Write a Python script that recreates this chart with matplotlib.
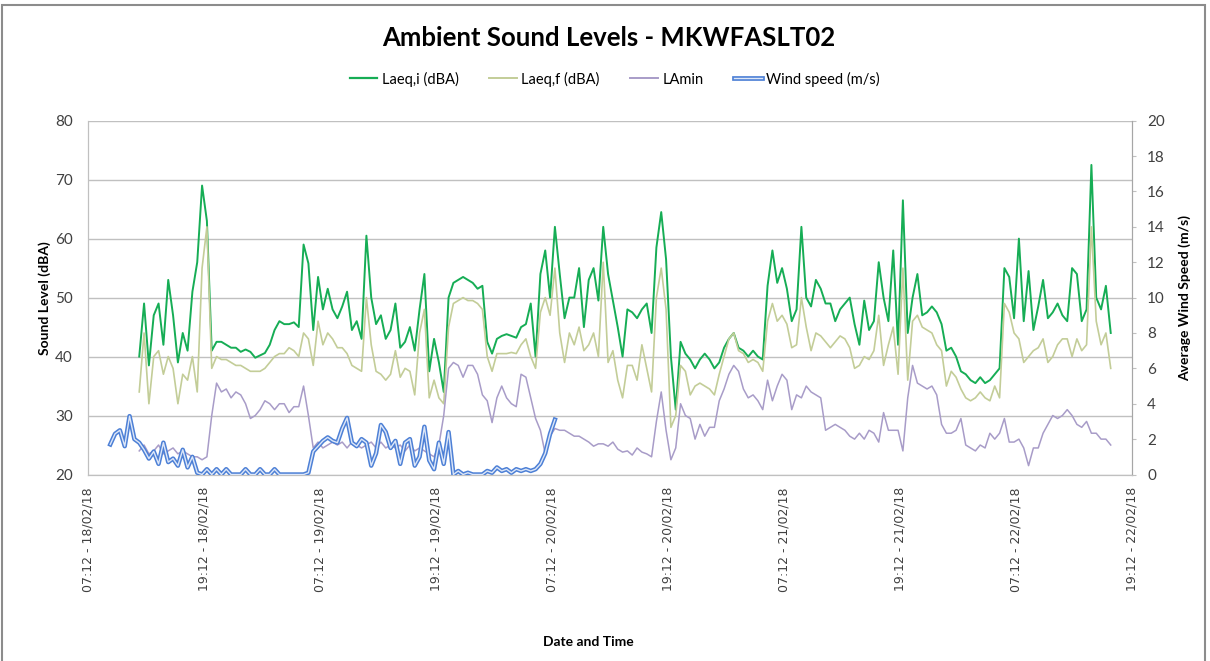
import matplotlib
matplotlib.use('Agg')
import matplotlib.pyplot as plt
import matplotlib.dates as mdates
from matplotlib.lines import Line2D
from matplotlib.patches import Rectangle
import pandas as pd

# 30-minute readings, sound from 12:30 18/02/18, wind from 09:30 18/02/18
SOUND_START = '2018-02-18 12:30'
WIND_START = '2018-02-18 09:30'

laeq_i = [
    40, 49, 38.5, 47, 49, 42, 53, 47, 39, 44,
    41, 51, 56, 69, 63, 41, 42.5, 42.5, 42, 41.5,
    41.5, 40.8, 41.2, 40.8, 39.8, 40.2, 40.6, 42, 44.5, 46,
    45.5, 45.5, 45.8, 45, 59, 55.8, 44.5, 53.5, 48, 51.5,
    48, 46.5, 48.5, 51, 44.5, 46, 43, 60.5, 50, 45.5,
    47, 43, 44.5, 49, 41.5, 42.5, 45, 41, 48, 54,
    37.5, 43, 39, 34, 50, 52.5, 53, 53.5, 53, 52.5,
    51.5, 52, 42.5, 40.5, 43, 43.5, 43.8, 43.5, 43.2, 45,
    45.5, 49, 40, 54, 58, 50, 62, 54, 46.5, 50,
    50, 55, 45, 53, 55, 49.5, 62, 54, 49.5, 45,
    40, 48, 47.5, 46.5, 48, 49, 44, 58.5, 64.5, 56.5,
    40, 31, 42.5, 40.5, 39.5, 38, 39.5, 40.5, 39.5, 38,
    39, 41.5, 43, 44, 41.5, 41, 40, 41, 40, 39.5,
    52, 58, 52.5, 55, 51.5, 46, 48, 62, 50, 48.5,
    53, 51.5, 49, 49, 46, 48, 49, 50, 45.5, 42,
    49.5, 44.5, 46, 56, 50, 46, 58, 42, 66.5, 44,
    50, 54, 47, 47.5, 48.5, 47.5, 45.5, 41, 41.5, 40,
    37.5, 37, 36, 35.5, 36.5, 35.5, 36, 37, 38, 55,
    53.5, 46.5, 60, 46, 54.5, 44.5, 48.5, 53, 46.5, 47.5,
    49, 47, 46, 55, 54, 46, 48, 72.5, 50, 48,
    52, 44,
]

laeq_f = [
    34, 44, 32, 40, 41, 37, 40, 38, 32, 37,
    36, 40, 34, 55, 62, 38, 40, 39.5, 39.5, 39,
    38.5, 38.5, 38, 37.5, 37.5, 37.5, 38, 39, 40, 40.5,
    40.5, 41.5, 41, 40, 44, 43, 38.5, 46, 42, 44,
    43, 41.5, 41.5, 40.5, 38.5, 38, 37.5, 50, 42, 37.5,
    37, 36, 37, 41, 36.5, 38, 37.5, 33.5, 44, 48,
    33, 36, 33, 32, 45, 49, 49.5, 50, 49.5, 49.5,
    49, 48, 40, 37.5, 40.5, 40.5, 40.5, 40.7, 40.5, 42,
    43, 40, 38, 47.5, 50, 47, 55, 44, 39, 44,
    42, 45, 41, 42, 44, 40, 56, 39, 41, 36,
    33, 38.5, 38.5, 36, 42, 38, 34, 50, 55, 48,
    28, 30, 38.5, 37.5, 33.5, 35, 35.5, 35, 34.5, 33.5,
    37, 40, 43, 44, 41, 40.5, 39, 39.5, 39, 37.5,
    46, 49, 46, 47, 45.5, 41.5, 42, 50, 45, 41,
    44, 43.5, 42.5, 41.5, 42.5, 43.5, 43, 41.5, 38, 38.5,
    40, 39.5, 41, 47, 38.5, 42, 45, 37, 55, 36,
    46, 47, 45, 44.5, 44, 42, 41, 35, 37.5, 36.5,
    34.5, 33, 32.5, 33, 34, 33, 32.5, 35, 33, 49,
    47.5, 44, 43, 39, 40, 41, 41.5, 43, 39, 40,
    42, 43, 43, 40, 43, 41, 42, 62, 46, 42,
    44, 38,
]

lamin = [
    24, 25, 23.5, 24, 25, 23.5, 24, 24.5, 23.5, 24,
    23.5, 23, 23, 22.5, 23, 30, 35.5, 34, 34.5, 33,
    34, 33.5, 32, 29.5, 30, 31, 32.5, 32, 31, 32,
    32, 30.5, 31.5, 31.5, 35, 30, 24.5, 25.5, 24.5, 25,
    25.5, 25, 25.5, 24.5, 25.5, 25, 24.5, 25, 25.5, 24.5,
    25.5, 24.5, 25, 24.5, 25, 24, 25, 24, 24.5, 24,
    23.5, 23, 25, 30, 38, 39, 38.5, 36.5, 38.5, 38.5,
    37, 33.5, 32.5, 28.8, 33, 35, 33, 32, 31.5, 37,
    36.5, 33, 29.5, 27.5, 23.5, 26.5, 27.8, 27.5, 27.5, 27,
    26.5, 26.5, 26, 25.5, 24.8, 25.2, 25.2, 24.8, 25.5, 24.3,
    23.8, 24, 23.3, 24.5, 23.8, 23.5, 23, 29, 34, 27.5,
    22.5, 24.5, 32, 30, 29.5, 26, 28.5, 26.5, 28, 28,
    32.5, 34.5, 37, 38.5, 37.5, 34.5, 33, 33.5, 32.5, 31,
    36, 32.5, 35, 37, 36, 31, 33.5, 33, 35, 34,
    33.5, 33, 27.5, 28, 28.5, 28, 27.5, 26.5, 26, 27,
    26, 27.5, 27, 25.5, 30.5, 27.5, 27.5, 27.5, 24, 33,
    38.5, 35.5, 35, 34.5, 35, 33.5, 28.5, 27, 27, 27.5,
    29.5, 25, 24.5, 24, 25, 24.5, 27, 26, 27, 29.5,
    25.5, 25.5, 26, 24.5, 21.5, 24.5, 24.5, 27, 28.5, 30,
    29.5, 30, 31, 30, 28.5, 28, 29, 27, 27, 26,
    26, 25,
]

wind = [
    1.7, 2.3, 2.5, 1.6, 3.3, 2.0, 1.8, 1.4, 0.9, 1.3,
    0.6, 1.8, 0.7, 0.9, 0.5, 1.4, 0.4, 1.0, 0.1, 0.0,
    0.3, 0.0, 0.3, 0.0, 0.3, 0.0, 0.0, 0.0, 0.3, 0.0,
    0.0, 0.3, 0.0, 0.0, 0.3, 0.0, 0.0, 0.0, 0.0, 0.0,
    0.0, 0.1, 1.3, 1.6, 1.9, 2.1, 1.9, 1.8, 2.6, 3.2,
    1.8, 1.6, 2.0, 1.8, 0.5, 1.2, 2.8, 2.4, 1.5, 1.9,
    0.6, 1.8, 2.0, 0.5, 1.0, 2.7, 0.8, 0.3, 1.8, 0.6,
    2.4, 0.0, 0.2, 0.0, 0.1, 0.0, 0.0, 0.0, 0.2, 0.1,
    0.4, 0.2, 0.3, 0.1, 0.3, 0.2, 0.3, 0.2, 0.3, 0.6,
    1.2, 2.3, 3.1,
]

GREEN = '#16AD55'
OLIVE = '#C3CD98'
PURPLE = '#A89CC8'
BLUE = '#4D80D6'
BLUE_CORE = '#DDE7F8'
GRID = '#C0C0C0'
TXT = '#404040'
FONT = ['Lato', 'DejaVu Sans']

t_sound = pd.date_range(SOUND_START, periods=len(laeq_i), freq='30min')
t_wind = pd.date_range(WIND_START, periods=len(wind), freq='30min')

fig = plt.figure(figsize=(12.10, 6.61), dpi=100)
ax = fig.add_axes([88 / 1210, 1 - 474.5 / 661, (1132 - 88) / 1210, (474.5 - 120.7) / 661])
ax2 = ax.twinx()

ax.plot(t_sound, laeq_i, color=GREEN, lw=1.4, zorder=3)
ax.plot(t_sound, laeq_f, color=OLIVE, lw=1.2, zorder=4)
ax.plot(t_sound, lamin, color=PURPLE, lw=1.1, zorder=5)
ax2.plot(t_wind, wind, color=BLUE, lw=3.2, solid_joinstyle='round', zorder=3)
ax2.plot(t_wind, wind, color=BLUE_CORE, lw=1.0, solid_joinstyle='round', zorder=4)

x0 = pd.Timestamp('2018-02-18 07:12')
x1 = pd.Timestamp('2018-02-22 19:12')
ax.set_xlim(x0, x1)
ax.set_ylim(20, 80)
ax.set_yticks(range(20, 81, 10))
ax2.set_ylim(0, 20)
ax2.set_yticks(range(0, 21, 2))

ax.set_xticks(pd.date_range(x0, x1, freq='12h'))
ax.xaxis.set_major_formatter(mdates.DateFormatter('%H:%M - %d/%m/%y'))
for lbl in ax.get_xticklabels():
    lbl.set_rotation(90)
    lbl.set_fontfamily('DejaVu Sans')
    lbl.set_fontsize(9)
    lbl.set_color(TXT)
ax.tick_params(axis='x', length=0, pad=9)
ax.tick_params(axis='y', length=0, pad=11, labelsize=11, labelcolor=TXT)
ax2.tick_params(axis='y', length=3, pad=8, labelsize=11, labelcolor=TXT, color=GRID)
for lbl in ax.get_yticklabels() + ax2.get_yticklabels():
    lbl.set_fontfamily(FONT)

ax.grid(axis='y', color=GRID, lw=1.0)
ax.set_axisbelow(True)
for a in (ax, ax2):
    for side in ('top', 'left'):
        a.spines[side].set_color(GRID)
    a.spines['right'].set_color('#A6A6A6')
    a.spines['bottom'].set_color(GRID)
    a.spines['top'].set_visible(False)

fig.text(0.503, 1 - 38 / 661, 'Ambient Sound Levels - MKWFASLT02', ha='center', va='center',
         fontsize=18.5, fontweight='bold', family=FONT, color='black')
fig.text(45 / 1210, 1 - 298 / 661, 'Sound Level (dBA)', rotation=90, ha='center', va='center',
         fontsize=10, fontweight='bold', family=FONT, color='black')
fig.text(1185 / 1210, 1 - 298 / 661, 'Average Wind Speed (m/s)', rotation=90, ha='center',
         va='center', fontsize=10, fontweight='bold', family=FONT, color='black')
fig.text(588 / 1210, 1 - 642 / 661, 'Date and Time', ha='center', va='center',
         fontsize=10, fontweight='bold', family=FONT, color='black')

handles = [
    Line2D([], [], color=GREEN, lw=1.6),
    Line2D([], [], color=OLIVE, lw=1.4),
    Line2D([], [], color=PURPLE, lw=1.4),
    (Line2D([], [], color=BLUE, lw=3.4), Line2D([], [], color=BLUE_CORE, lw=1.0)),
]
labels = ['Laeq,i (dBA)', 'Laeq,f (dBA)', 'LAmin', 'Wind speed (m/s)']
fig.legend(handles, labels, loc='center', bbox_to_anchor=(0.508, 1 - 79 / 661), ncol=4,
           frameon=False, handlelength=1.9, handletextpad=0.3, columnspacing=2.1,
           prop={'family': FONT, 'size': 10.5})

fig.patches.append(Rectangle((0.002, -0.02), 0.994, 1.013, transform=fig.transFigure,
                             fill=False, edgecolor='#8C8C8C', lw=1.5))

fig.savefig('out.png', dpi=100, facecolor='white')
